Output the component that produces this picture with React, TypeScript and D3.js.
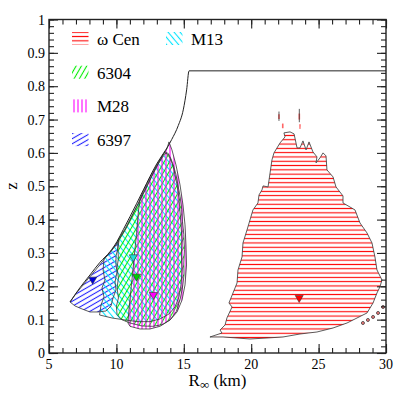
import React, { useEffect, useRef } from "react";
import * as d3 from "d3";

// contours, points are [R_inf (km), z]
const omegaCen = [
  [22.43, 0.66], [22.88, 0.663], [23.18, 0.657], [23.4, 0.615], [23.62, 0.615], [23.84, 0.636],
  [24.07, 0.609], [24.29, 0.633], [24.58, 0.603], [24.88, 0.588], [24.81, 0.57], [25.1, 0.585],
  [25.33, 0.6], [25.55, 0.591], [25.62, 0.549], [26.07, 0.528], [26.29, 0.498], [26.81, 0.471],
  [26.81, 0.45], [27.7, 0.429], [28.07, 0.39], [28.59, 0.36], [28.96, 0.33], [29.18, 0.288],
  [29.33, 0.249], [29.7, 0.219], [29.55, 0.198], [29.33, 0.18], [29.04, 0.15], [28.59, 0.12],
  [27.85, 0.105], [27.11, 0.09], [26.07, 0.075], [24.88, 0.063], [23.62, 0.057], [22.36, 0.048],
  [21.17, 0.045], [19.91, 0.042], [18.95, 0.045], [17.91, 0.048], [16.94, 0.048], [17.83, 0.06],
  [17.69, 0.069], [18.06, 0.084], [18.2, 0.105], [18.58, 0.138], [18.35, 0.15], [18.65, 0.18],
  [18.95, 0.21], [19.02, 0.249], [19.32, 0.288], [19.39, 0.33], [19.69, 0.369], [19.91, 0.399],
  [20.13, 0.429], [20.5, 0.45], [20.58, 0.474], [20.8, 0.489], [20.88, 0.501], [21.25, 0.498],
  [21.4, 0.54], [21.54, 0.579], [21.69, 0.6], [22.14, 0.63], [22.51, 0.648],
];
// small detached pieces of the omega Cen contour
const omegaCenIslands = [
  [[22.0, 0.702], [22.12, 0.702], [22.12, 0.716], [22.0, 0.716]],
  [[23.51, 0.7], [23.63, 0.7], [23.63, 0.718], [23.51, 0.718]],
  [[22.28, 0.688], [22.4, 0.688], [22.4, 0.674], [22.28, 0.674]],
  [[23.56, 0.686], [23.68, 0.686], [23.66, 0.672], [23.58, 0.672]],
];
const omegaCenStems = [
  [[22.06, 0.696], [22.06, 0.724]],
  [[23.57, 0.692], [23.57, 0.732]],
];
const omegaCenDots = [[28.29, 0.09], [28.66, 0.099], [29.04, 0.108], [29.41, 0.12], [29.78, 0.138]];

const ngc6397 = [
  [6.56, 0.153], [7.0, 0.178], [7.45, 0.2], [7.89, 0.222], [8.34, 0.243], [8.78, 0.265],
  [9.23, 0.288], [9.67, 0.308], [10.04, 0.328], [10.19, 0.337], [10.12, 0.315], [9.97, 0.291],
  [9.97, 0.267], [10.04, 0.243], [9.9, 0.213], [9.97, 0.189], [9.75, 0.165], [9.6, 0.141],
  [9.23, 0.126], [8.64, 0.123], [8.04, 0.123], [7.45, 0.132], [6.93, 0.141],
];
const m13 = [
  [9.08, 0.282], [9.53, 0.302], [10.04, 0.33], [10.64, 0.368], [11.23, 0.416], [11.75, 0.458],
  [12.27, 0.5], [12.72, 0.538], [13.09, 0.566], [13.38, 0.585], [13.68, 0.6], [13.98, 0.585],
  [14.2, 0.561], [14.35, 0.534], [14.5, 0.504], [14.64, 0.465], [14.72, 0.423], [14.79, 0.384],
  [14.87, 0.339], [14.82, 0.294], [14.87, 0.249], [14.79, 0.204], [14.64, 0.168], [14.35, 0.138],
  [13.9, 0.117], [13.23, 0.102], [12.49, 0.094], [11.6, 0.094], [10.64, 0.099], [9.67, 0.105],
  [8.75, 0.114], [8.86, 0.144], [9.08, 0.168], [8.93, 0.195], [9.15, 0.219], [9.01, 0.249],
];
const ngc6304 = [
  [10.12, 0.338], [10.64, 0.372], [11.23, 0.418], [11.75, 0.459], [12.27, 0.501], [12.72, 0.538],
  [13.09, 0.567], [13.38, 0.588], [13.6, 0.603], [13.85, 0.598], [14.05, 0.582], [14.25, 0.56],
  [14.42, 0.535], [14.55, 0.507], [14.72, 0.47], [14.85, 0.43], [14.9, 0.395], [15.0, 0.355],
  [15.05, 0.31], [15.0, 0.27], [15.02, 0.235], [14.9, 0.195], [14.72, 0.16], [14.45, 0.125],
  [14.0, 0.1], [13.4, 0.085], [12.7, 0.08], [11.9, 0.081], [11.0, 0.09], [10.4, 0.1],
  [10.05, 0.115], [10.0, 0.14], [10.15, 0.165], [10.05, 0.195], [10.15, 0.225], [10.05, 0.255],
  [10.15, 0.285], [10.1, 0.315],
];
const m28 = [
  [11.75, 0.462], [12.0, 0.485], [12.49, 0.525], [12.99, 0.563], [13.48, 0.596], [13.75, 0.612],
  [13.9, 0.633], [14.12, 0.609], [14.42, 0.564], [14.72, 0.504], [14.94, 0.444], [15.09, 0.384],
  [15.16, 0.324], [15.2, 0.264], [15.09, 0.204], [14.87, 0.159], [14.5, 0.123], [13.98, 0.099],
  [13.23, 0.08], [12.49, 0.072], [11.75, 0.072], [11.01, 0.08], [10.86, 0.09], [10.93, 0.13],
  [11.08, 0.19], [11.23, 0.25], [11.35, 0.3], [11.5, 0.36], [11.62, 0.42],
];

// outer black boundary curve
const limitCurve = [
  [6.56, 0.153], [7.3, 0.196], [8.04, 0.234], [8.78, 0.272], [9.53, 0.304], [10.04, 0.334],
  [10.51, 0.37], [11.01, 0.409], [11.51, 0.449], [12.0, 0.489], [12.49, 0.529], [12.99, 0.567],
  [13.48, 0.598], [13.8, 0.618], [14.1, 0.64], [14.59, 0.682], [14.96, 0.729], [15.21, 0.789],
  [15.39, 0.846], [30, 0.846],
];

// best fit markers
const fitNames = ["ω Cen", "6397", "M13", "6304", "M28"];
const fitR = [23.56, 8.24, 11.25, 11.5, 12.74];
const fitZ = [0.162, 0.217, 0.284, 0.226, 0.171];

const legendLeft = ["ω Cen", "6304", "M28", "6397"];
const legendRight = ["M13"];

const xTicks = [5, 10, 15, 20, 25, 30];
const yTicks = [0, 0.1, 0.2, 0.3, 0.4, 0.5, 0.6, 0.7, 0.8, 0.9, 1];

const style = {
  "ω Cen": { color: "#ff0000", angle: 0, gap: 4.3, marker: "#ff0000" },
  "6304": { color: "#00ee00", angle: -60, gap: 4.6, marker: "#00cc00" },
  "M13": { color: "#00e5ff", angle: 50, gap: 4.6, marker: "#22dddd" },
  "M28": { color: "#ff00ff", angle: 90, gap: 4, marker: "#ff00ff" },
  "6397": { color: "#2222ff", angle: -30, gap: 4.4, marker: "#0000dd" },
};
const patternId = (name) => "hatch" + Object.keys(style).indexOf(name);

const width = 407;
const height = 393;
const x = d3.scaleLinear().domain([5, 30]).range([49, 386]);
const y = d3.scaleLinear().domain([0, 1]).range([353, 19.5]);
const serif = { fontFamily: "Liberation Serif" };

const App = () => {
  const gRef = useRef(null);

  useEffect(() => {
    const root = d3.select(gRef.current);
    root.selectAll("*").remove();

    // hatch patterns
    const defs = root.append("defs");
    Object.keys(style).forEach((k) => {
      const s = style[k];
      const p = defs.append("pattern")
        .attr("id", patternId(k))
        .attr("patternUnits", "userSpaceOnUse")
        .attr("width", s.gap)
        .attr("height", s.gap)
        .attr("patternTransform", `rotate(${s.angle})`);
      p.append("line")
        .attr("x1", -1).attr("x2", s.gap + 1)
        .attr("y1", s.gap / 2).attr("y2", s.gap / 2)
        .attr("stroke", s.color)
        .attr("stroke-width", 1.1);
    });

    const line = d3.line().x((d) => x(d[0])).y((d) => y(d[1]));
    const closed = d3.line().x((d) => x(d[0])).y((d) => y(d[1])).curve(d3.curveLinearClosed);

    const regions = [
      ["ω Cen", omegaCen], ["6397", ngc6397], ["M13", m13], ["6304", ngc6304], ["M28", m28],
    ];

    // fills
    const fills = root.append("g");
    regions.forEach(([k, pts]) => {
      fills.append("path").attr("d", closed(pts)).attr("fill", `url(#${patternId(k)})`);
    });
    omegaCenIslands.forEach((pts) => {
      fills.append("path").attr("d", closed(pts)).attr("fill", style["ω Cen"].color).attr("opacity", 0.6);
    });

    // outlines
    const outl = root.append("g").attr("fill", "none").attr("stroke", "#333").attr("stroke-width", 0.8);
    regions.forEach(([k, pts]) => {
      outl.append("path").attr("d", closed(pts));
    });
    omegaCenStems.forEach((pts) => outl.append("path").attr("d", line(pts)));
    outl.selectAll("circle")
      .data(omegaCenDots)
      .enter()
      .append("circle")
      .attr("cx", (d) => x(d[0]))
      .attr("cy", (d) => y(d[1]))
      .attr("r", 1.5)
      .attr("fill", "#ff8080");

    // limit curve
    root.append("path")
      .attr("d", d3.line().x((d) => x(d[0])).y((d) => y(d[1])).curve(d3.curveMonotoneX)(limitCurve))
      .attr("fill", "none")
      .attr("stroke", "#222")
      .attr("stroke-width", 1);

    // markers (downward triangles)
    root.append("g")
      .selectAll("path")
      .data(fitNames)
      .enter()
      .append("path")
      .attr("d", "M-4,-3.5L4,-3.5L0,3.5Z")
      .attr("transform", (d, i) => `translate(${x(fitR[i])},${y(fitZ[i])})`)
      .attr("fill", (d) => style[d].marker)
      .attr("stroke", "#333")
      .attr("stroke-width", 0.6);

    // tick marks pointing inward, labels are drawn in JSX
    const axisColor = "#222";
    const xMinor = d3.range(5, 30.01, 1);
    const yMinor = d3.range(0, 1.001, 0.02);
    const addAxis = (axis, transform) => {
      const g = root.append("g")
        .attr("transform", transform)
        .style("color", axisColor)
        .call(axis.tickFormat(() => ""));
      g.select(".domain").remove();
    };
    addAxis(d3.axisBottom(x).tickValues(xTicks).tickSize(-9), `translate(0,${y(0)})`);
    addAxis(d3.axisBottom(x).tickValues(xMinor).tickSize(-5), `translate(0,${y(0)})`);
    addAxis(d3.axisTop(x).tickValues(xTicks).tickSize(-9), `translate(0,${y(1)})`);
    addAxis(d3.axisTop(x).tickValues(xMinor).tickSize(-5), `translate(0,${y(1)})`);
    addAxis(d3.axisLeft(y).tickValues(yTicks).tickSize(-9), `translate(${x(5)},0)`);
    addAxis(d3.axisLeft(y).tickValues(yMinor).tickSize(-5), `translate(${x(5)},0)`);
    addAxis(d3.axisRight(y).tickValues(yTicks).tickSize(-9), `translate(${x(30)},0)`);
    addAxis(d3.axisRight(y).tickValues(yMinor).tickSize(-5), `translate(${x(30)},0)`);
    root.selectAll(".tick line").attr("stroke-width", 1.1);
    root.selectAll(".tick text").remove();

    // frame
    root.append("rect")
      .attr("x", x(5)).attr("y", y(1))
      .attr("width", x(30) - x(5)).attr("height", y(0) - y(1))
      .attr("fill", "none")
      .attr("stroke", axisColor)
      .attr("stroke-width", 1.4);

    // legend swatches
    const addSwatch = (name, lx, cy) => {
      root.append("rect")
        .attr("x", lx).attr("y", cy - 6.5)
        .attr("width", 16.5).attr("height", 13)
        .attr("fill", `url(#${patternId(name)})`);
    };
    legendLeft.forEach((n, i) => addSwatch(n, 72, 38.5 + i * 33.7));
    legendRight.forEach((n, i) => addSwatch(n, 166, 38.5 + i * 33.7));
  }, []);

  const fmt = d3.format("~g");

  return (
    <svg width={width} height={height} style={{ position: "absolute", left: 0, top: 0, display: "block" }}>
      <g ref={gRef}></g>
      {xTicks.map((t) => (
        <text key={"x" + t} x={x(t)} y={y(0) + 16} textAnchor="middle" style={{ ...serif, fontSize: "14px" }}>
          {fmt(t)}
        </text>
      ))}
      {yTicks.map((t) => (
        <text key={"y" + t} x={x(5) - 4} y={y(t) + 5} textAnchor="end" style={{ ...serif, fontSize: "14px" }}>
          {fmt(t)}
        </text>
      ))}
      <text x={(x(5) + x(30)) / 2} y={386} textAnchor="middle" style={{ ...serif, fontSize: "17px" }}>
        <tspan>R</tspan>
        <tspan dy={3} style={{ fontSize: "13px" }}>∞</tspan>
        <tspan dy={-3}> (km)</tspan>
      </text>
      <text transform="translate(17,186) rotate(-90)" textAnchor="middle" style={{ ...serif, fontSize: "17px" }}>
        z
      </text>
      {legendLeft.map((n, i) => (
        <text key={n} x={97} y={38.5 + i * 33.7 + 6.3} style={{ ...serif, fontSize: "17px" }}>
          {n}
        </text>
      ))}
      {legendRight.map((n, i) => (
        <text key={n} x={191} y={38.5 + i * 33.7 + 6.3} style={{ ...serif, fontSize: "17px" }}>
          {n}
        </text>
      ))}
    </svg>
  );
};

export default App;
